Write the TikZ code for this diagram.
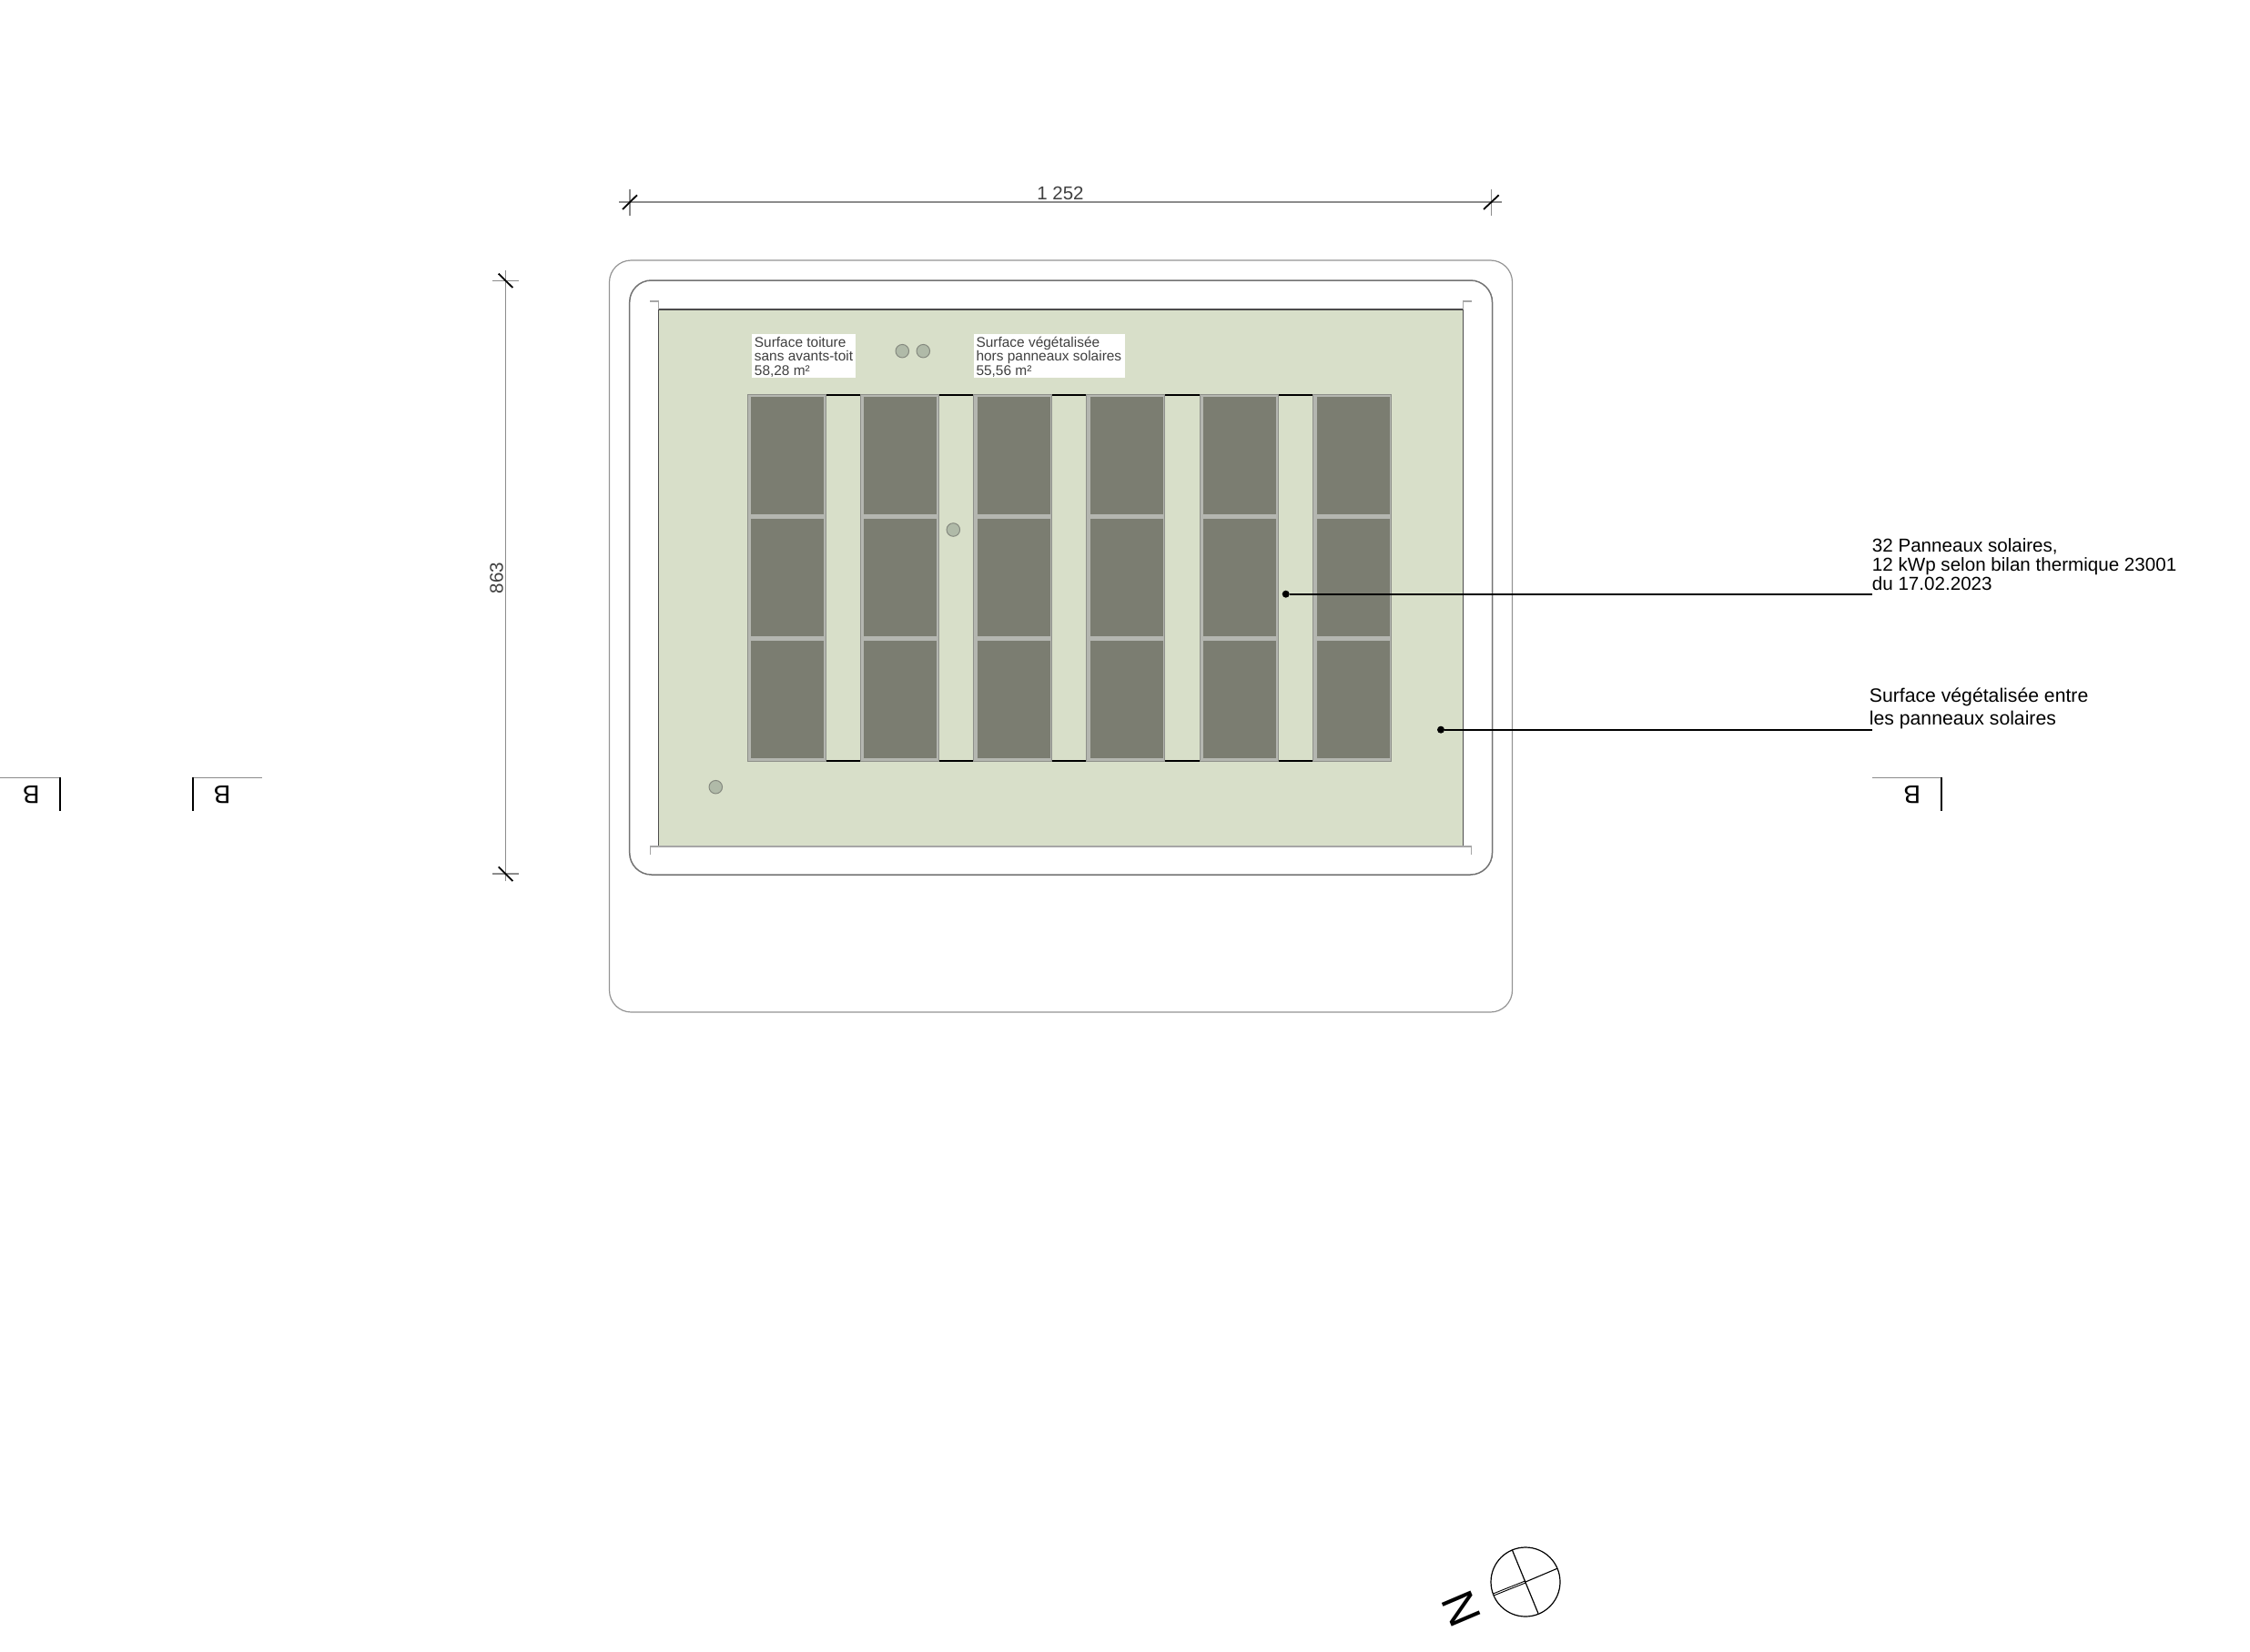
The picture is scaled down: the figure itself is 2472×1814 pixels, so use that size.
\documentclass[tikz,border=0pt]{standalone}
\usepackage{fontspec}
\setmainfont{Liberation Sans}
\definecolor{green1}{HTML}{D8DFC9}
\definecolor{panel}{HTML}{7B7D71}
\definecolor{frame}{HTML}{B4B6B0}
\definecolor{frameout}{HTML}{8E908A}
\definecolor{dotc}{HTML}{B0BAA8}
\definecolor{dotl}{HTML}{85897F}
\definecolor{txt}{HTML}{404040}
\tikzset{
  outerl/.style={draw=black!42,line width=1.2pt,rounded corners=24pt},
  innerl/.style={draw=black!55,line width=1.5pt,rounded corners=24pt},
  cornerl/.style={draw=black!35,line width=1.3pt},
  diml/.style={draw=black!45,line width=1.4pt},
  slashl/.style={draw=black,line width=1.8pt},
  hole/.style={circle,draw=dotl,fill=dotc,line width=1pt,minimum size=14.5pt,inner sep=0pt},
  small/.style={anchor=base west,inner sep=0pt,align=left,text=txt,font=\fontsize{15.45}{15.5}\selectfont},
  whitebox/.style={fill=white,draw=none},
  note/.style={anchor=base west,inner sep=0pt,align=left,text=black},
  leader/.style={draw=black,line width=1.7pt},
  blob/.style={circle,fill=black,inner sep=0pt,minimum size=8pt},
  secl/.style={draw=black,line width=1.8pt},
  sech/.style={draw=black!45,line width=1.4pt},
  secb/.style={inner sep=0pt,rotate=180,font=\fontsize{28}{30}\selectfont},
}
\begin{document}
\begin{tikzpicture}[x=1pt,y=-1pt]
\useasboundingbox (0,0) rectangle (2472,1814);
% outlines
\draw[outerl] (669.5,286) rectangle (1661.5,1112);
\draw[innerl] (691.7,308) rectangle (1639.5,961);
% green roof
\fill[green1] (723.3,340) rectangle (1607.5,930);
\draw[draw=black!70,line width=1.5pt] (723.3,930) -- (723.3,340) -- (1607.5,340) -- (1607.5,930);
\draw[cornerl] (714,331) -- (723.3,331) -- (723.3,340);
\draw[cornerl] (1607.5,340) -- (1607.5,331) -- (1616.5,331);
\draw[cornerl] (714.5,939) -- (714.5,930) -- (1616.5,930) -- (1616.5,939);
% black segments between panel columns
\foreach \k in {0,...,4}{
  \pgfmathsetmacro{\xa}{907+124.3*\k}
  \pgfmathsetmacro{\xb}{\xa+39}
  \draw[draw=black,line width=2pt] (\xa,433.5) -- (\xb,433.5);
  \draw[draw=black,line width=2pt] (\xa,835.5) -- (\xb,835.5);
}
% panels
\foreach \k in {0,...,5}{
  \pgfmathsetmacro{\xa}{821+124.3*\k}
  \pgfmathsetmacro{\xb}{\xa+86}
  \pgfmathsetmacro{\xc}{\xa+4}
  \pgfmathsetmacro{\xd}{\xa+84}
  \fill[frame] (\xa,433) rectangle (\xb,836.5);
  \draw[draw=frameout,line width=1pt] (\xa,433) rectangle (\xb,836.5);
  \fill[panel] (\xc,436) rectangle (\xd,565);
  \fill[panel] (\xc,569.5) rectangle (\xd,699);
  \fill[panel] (\xc,703.5) rectangle (\xd,833.3);
}
% holes
\node[hole] (h1) at (991.3,385.7) {};
\node[hole] (h2) at (1014.3,385.7) {};
\node[hole] (h3) at (1047.3,582) {};
\node[hole] (h4) at (786.3,864.7) {};
% small labels
\fill[whitebox] (826,367.3) rectangle (940,415);
\fill[whitebox] (1070,367.3) rectangle (1236,415);
\node[small] (s1) at (828.7,412) {Surface toiture\\sans avants-toit\\58,28 m²};
\node[small] (s2) at (1072.3,412) {Surface végétalisée\\hors panneaux solaires\\55,56 m²};
% dimensions
\draw[diml] (680,222) -- (1650,222);
\draw[diml] (692,207.7) -- (692,236.7);
\draw[diml] (1638.5,207.7) -- (1638.5,236.7);
\draw[slashl] (684,230) -- (700,214.3);
\draw[slashl] (1630,230) -- (1646.7,214.3);
\node[inner sep=0pt,anchor=base,text=txt,font=\fontsize{20.5}{22}\selectfont] (d1) at (1165,219.3) {1 252};
\draw[diml] (555.7,297) -- (555.7,968);
\draw[diml] (541,308.3) -- (570,308.3);
\draw[diml] (541,960) -- (570,960);
\draw[slashl] (547.7,300.7) -- (563.3,316);
\draw[slashl] (547.7,952.3) -- (563.3,968);
\node[inner sep=0pt,anchor=base,rotate=90,text=txt,font=\fontsize{20.5}{22}\selectfont] (d2) at (552.5,635) {863};
% leaders
\node[blob] (b1) at (1412.7,652.7) {};
\node[blob] (b2) at (1583,801.7) {};
\coordinate (e1) at (2056.7,652.7);
\coordinate (e2) at (2056.7,801.7);
\draw[leader] (b1) -- (e1);
\draw[leader] (b2) -- (e2);
\node[note,font=\fontsize{20.6}{21}\selectfont] (n1) at (2056.7,648.3) {32 Panneaux solaires,\\12 kWp selon bilan thermique 23001\\du 17.02.2023};
\node[note,font=\fontsize{21.2}{25}\selectfont] (n2) at (2053.7,796.7) {Surface végétalisée entre\\les panneaux solaires};
% section marks
\draw[sech] (0,854.3) -- (66,854.3);
\draw[secl] (66,854.3) -- (66,891);
\node[secb] (B1) at (34.3,873) {B};
\draw[sech] (212,854.3) -- (287.7,854.3);
\draw[secl] (212,854.3) -- (212,891);
\node[secb] (B2) at (244,873) {B};
\draw[sech] (2056.7,854.3) -- (2132.7,854.3);
\draw[secl] (2132.7,854.3) -- (2132.7,891);
\node[secb] (B3) at (2100.7,873) {B};
% north
\node[circle,draw=black,line width=1.2pt,minimum size=76pt,inner sep=0pt] (c) at (1676,1738) {};
\draw[draw=black,line width=1.2pt] (1661.3,1702.7) -- (1690,1772.7);
\draw[draw=black,line width=1.1pt] (1710.7,1723.3) -- (1676,1738);
\draw[draw=black,line width=.9pt] (1676,1736.8) -- (1641,1750.7);
\draw[draw=black,line width=.9pt] (1676,1739) -- (1641.5,1752.8);
\node[inner sep=0pt,rotate=113,font=\fontsize{50}{52}\selectfont] (N) at (1605.3,1767.7) {N};
\end{tikzpicture}
\end{document}
